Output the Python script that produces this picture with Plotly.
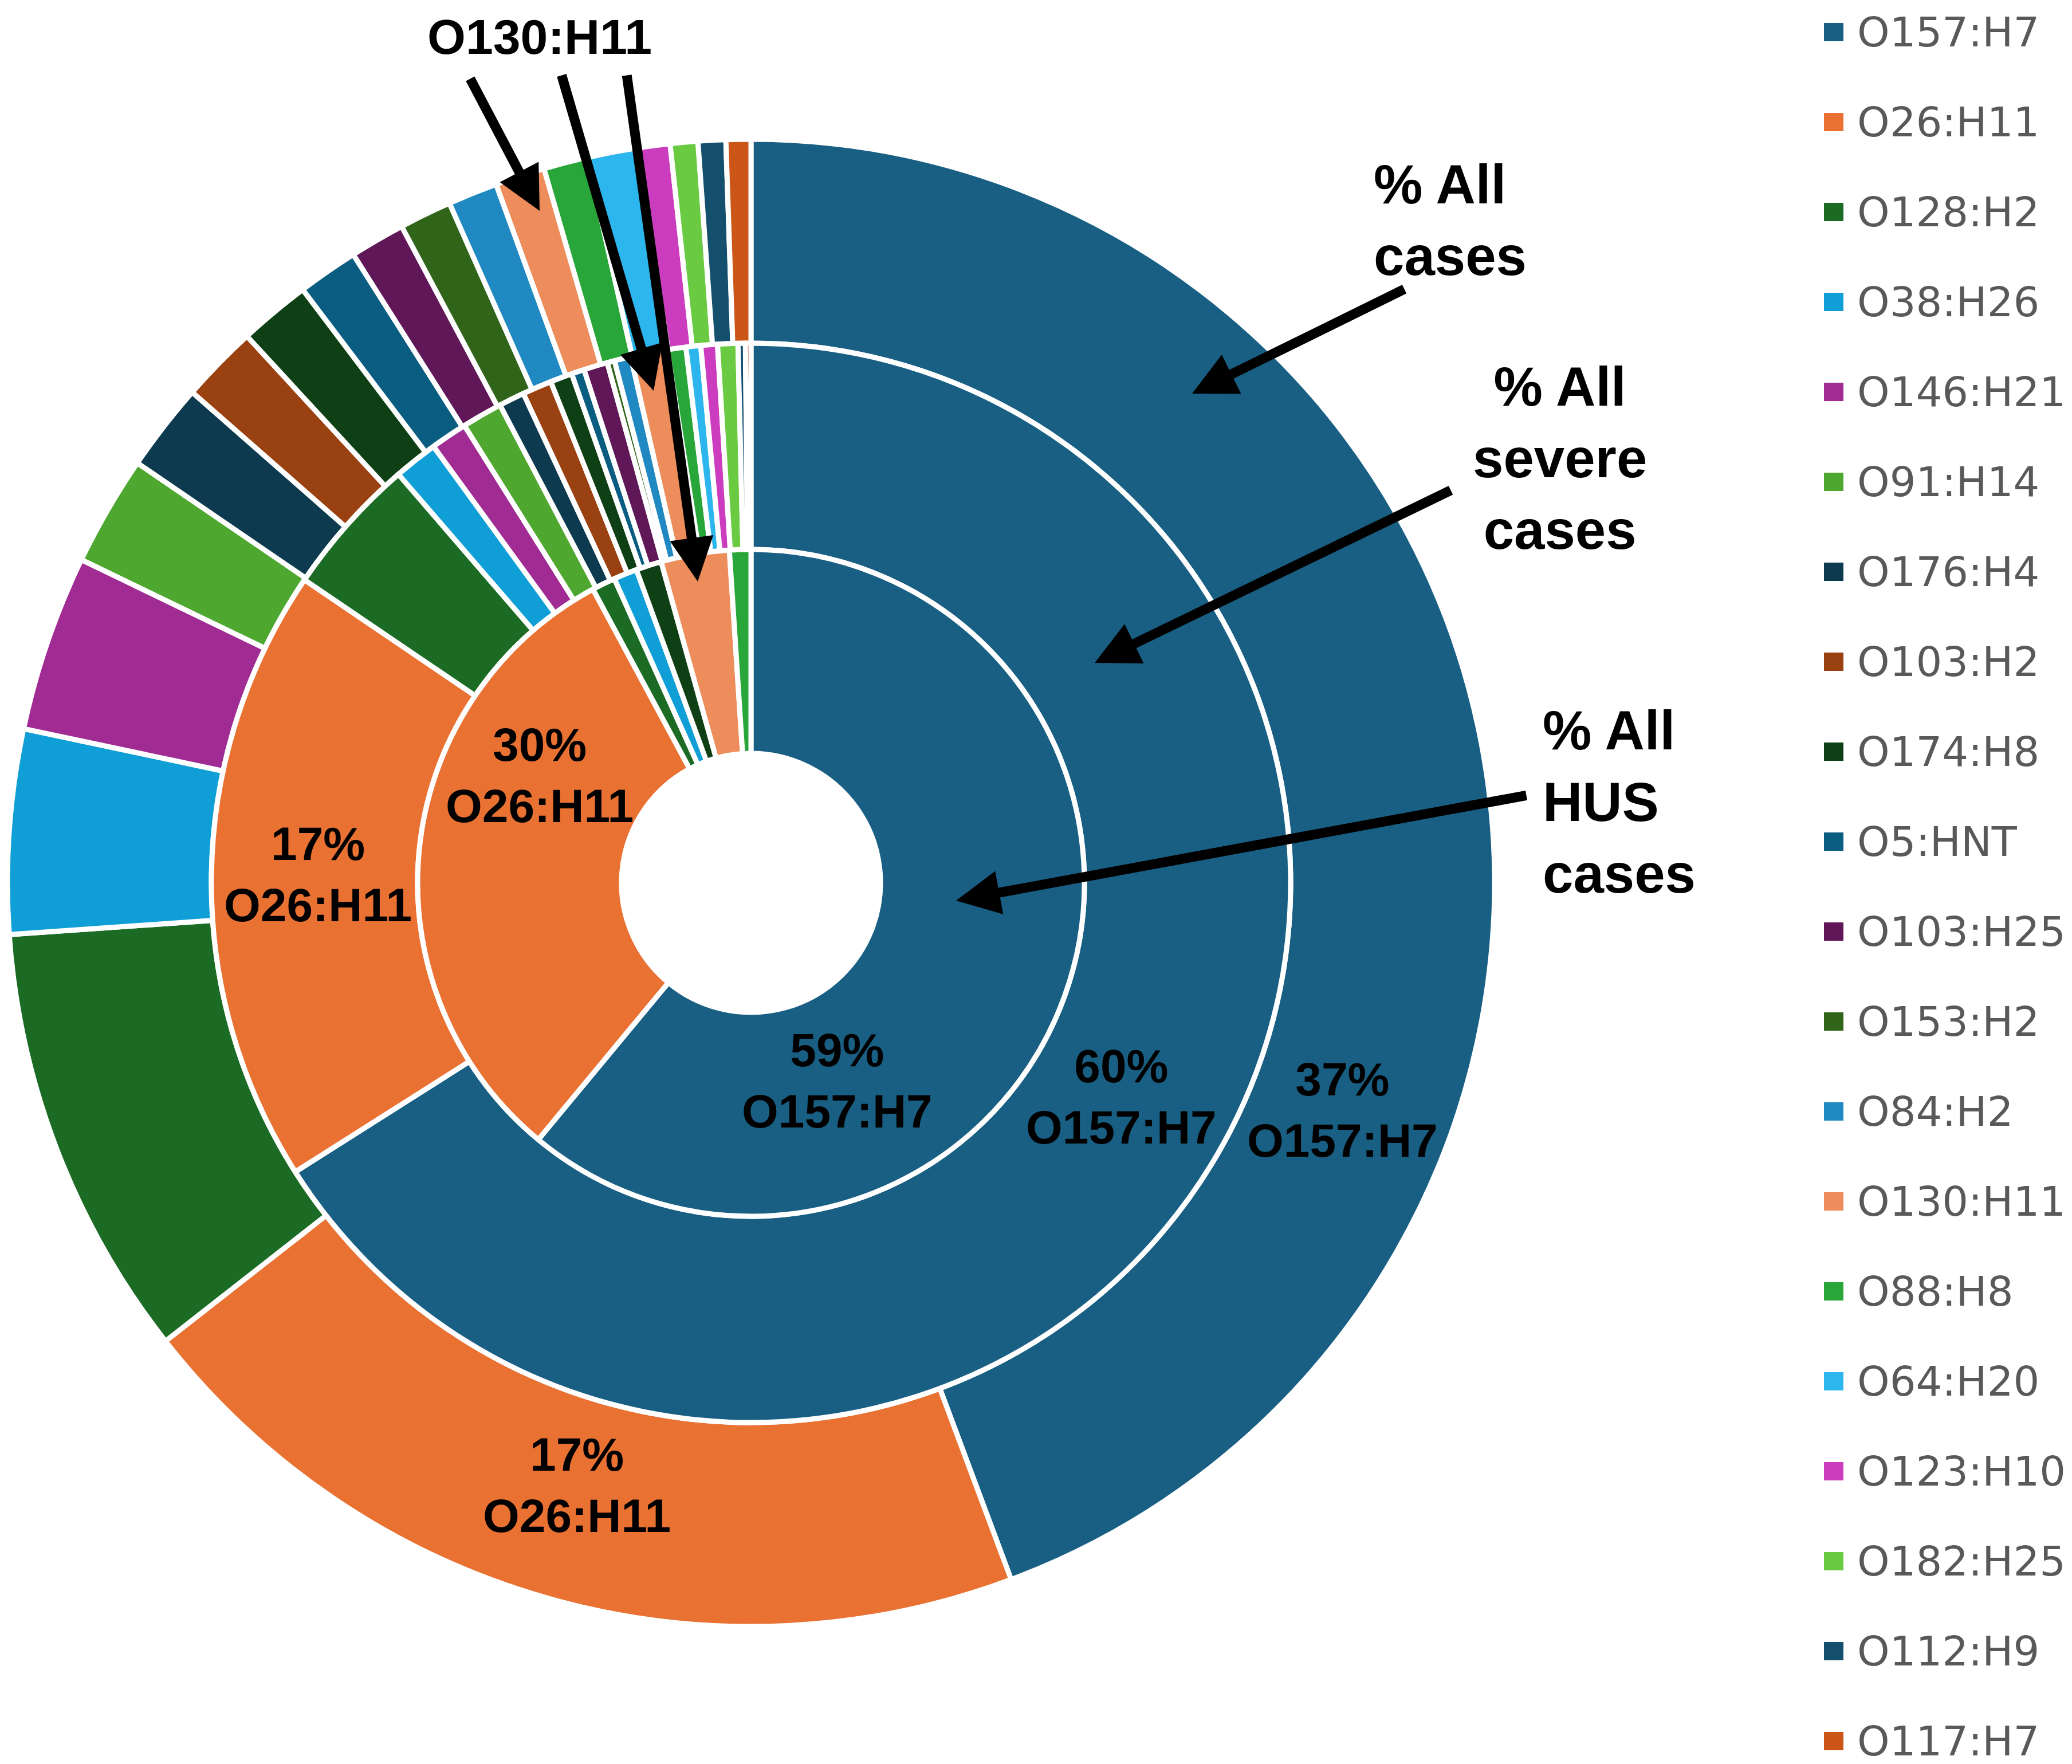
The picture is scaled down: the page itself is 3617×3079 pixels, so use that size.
import plotly.graph_objects as go

W, H = 3617, 3079

# ---------------- data ----------------
serotypes = ["O157:H7", "O26:H11", "O128:H2", "O38:H26", "O146:H21", "O91:H14",
             "O176:H4", "O103:H2", "O174:H8", "O5:HNT", "O103:H25", "O153:H2",
             "O84:H2", "O130:H11", "O88:H8", "O64:H20", "O123:H10", "O182:H25",
             "O112:H9", "O117:H7"]
colors = ["#185F83", "#E97132", "#1B6B24", "#0F9ED5", "#A02B93", "#4EA72E",
          "#0D3A4F", "#9A4111", "#0F4015", "#0A5C80", "#601758", "#2F6419",
          "#2089C2", "#ED8D5B", "#28A639", "#2DB6EE", "#CB3DBE", "#6ACB42",
          "#154F6E", "#CC5518"]
# % of all cases (outer ring)
all_cases = [37.0, 16.8, 7.9, 3.7, 3.2, 2.0, 1.6, 1.4, 1.3, 1.1, 1.0, 0.95,
             0.9, 0.9, 0.8, 0.9, 0.6, 0.5, 0.5, 0.45]
# % of all severe cases (middle ring)
severe_cases = [60.0, 16.8, 3.8, 1.2, 1.0, 1.1, 0.7, 0.8, 0.6, 0.35, 0.65, 0.2,
                0.45, 1.0, 0.5, 0.4, 0.45, 0.55, 0.2, 0.15]
# % of all HUS cases (inner ring)
hus_cases = [59.0, 30.1, 1.1, 1.1, 0, 0, 0, 0, 1.2, 0, 0, 0,
             0, 3.2, 1.0, 0, 0, 0, 0, 0]

ring_titles = ["% All<br>cases", "% All<br>severe<br>cases", "% All<br>HUS<br>cases"]

# ---------------- layout geometry (pixels) ----------------
CX, CY = 1303, 1533
R_OUT, R_MID, R_IN, R_HOLE = 1298, 942, 582, 226


def px_x(x):
    return x / W


def px_y(y):
    return 1 - y / H


def ring(vals, r_out, r_in):
    idx = [i for i, v in enumerate(vals) if v > 0]
    return go.Pie(
        labels=[serotypes[i] for i in idx],
        values=[vals[i] for i in idx],
        marker=dict(colors=[colors[i] for i in idx],
                    line=dict(color="white", width=9)),
        hole=r_in / r_out,
        sort=False,
        direction="clockwise",
        rotation=0,
        textinfo="none",
        showlegend=False,
        domain=dict(x=[(CX - r_out) / W, (CX + r_out) / W],
                    y=[1 - (CY + r_out) / H, 1 - (CY - r_out) / H]),
    )


fig = go.Figure()
fig.add_trace(ring(all_cases, R_OUT, R_MID))
fig.add_trace(ring(severe_cases, R_MID, R_IN))
fig.add_trace(ring(hus_cases, R_IN, R_HOLE))

annotations = []


def label(text, x, y, size=82):
    annotations.append(dict(text="<b>" + text + "</b>", x=px_x(x), y=px_y(y),
                            xref="paper", yref="paper", showarrow=False,
                            xanchor="center", yanchor="middle",
                            font=dict(family="Liberation Sans", size=size, color="black"),
                            align="center"))


def pct(v):
    return "%d%%" % round(v)


label(pct(all_cases[0]) + "<br>" + serotypes[0], 2335, 1929)
label(pct(severe_cases[0]) + "<br>" + serotypes[0], 1949, 1906)
label(pct(hus_cases[0]) + "<br>" + serotypes[0], 1453, 1878)
label(pct(all_cases[1]) + "<br>" + serotypes[1], 999, 2584)
label(pct(severe_cases[1]) + "<br>" + serotypes[1], 547, 1518)
label(pct(hus_cases[1]) + "<br>" + serotypes[1], 934, 1345)
label(serotypes[13], 934, 56, size=86)

title_font = dict(family="Liberation Sans", size=96, color="black")
for txt, x, y, anc in [(ring_titles[0], 2388, 376, "left"),
                       (ring_titles[1], 2715, 791, "center"),
                       (ring_titles[2], 2683, 1391, "left")]:
    annotations.append(dict(text="<b>" + txt + "</b>", x=px_x(x), y=px_y(y),
                            xanchor=anc, yanchor="middle", align=anc, showarrow=False,
                            xref="paper", yref="paper", font=title_font))

# arrows: (tail_x, tail_y, head_x, head_y) in pixels
arrows = [
    (2445, 496, 2073, 679),
    (2526, 847, 1903, 1149),
    (2658, 1380, 1661, 1564),
    (812, 128, 934, 360),
    (972, 122, 1133, 674),
    (1086, 122, 1210, 1007),
]
for tx, ty, hx, hy in arrows:
    annotations.append(dict(text="", x=px_x(hx), y=px_y(hy), xref="paper", yref="paper",
                            ax=tx - hx, ay=ty - hy, axref="pixel", ayref="pixel",
                            showarrow=True, arrowhead=2, arrowsize=0.9,
                            arrowwidth=17, arrowcolor="black", standoff=0))

# custom legend
shapes = []
leg_font = dict(family="DejaVu Sans", size=72, color="#595959")
for i, name in enumerate(serotypes):
    yc = 48 + i * 157.0
    shapes.append(dict(type="rect", xref="paper", yref="paper",
                       x0=px_x(3176), x1=px_x(3210), y0=px_y(yc + 16), y1=px_y(yc - 16),
                       fillcolor=colors[i], line=dict(width=0)))
    annotations.append(dict(text=name, x=px_x(3232), y=px_y(yc), xref="paper", yref="paper",
                            xanchor="left", yanchor="middle", showarrow=False,
                            font=leg_font))

fig.update_layout(
    width=W, height=H,
    margin=dict(l=0, r=0, t=0, b=0),
    paper_bgcolor="white", plot_bgcolor="white",
    annotations=annotations, shapes=shapes,
    showlegend=False,
)

fig.write_html("out.html")
